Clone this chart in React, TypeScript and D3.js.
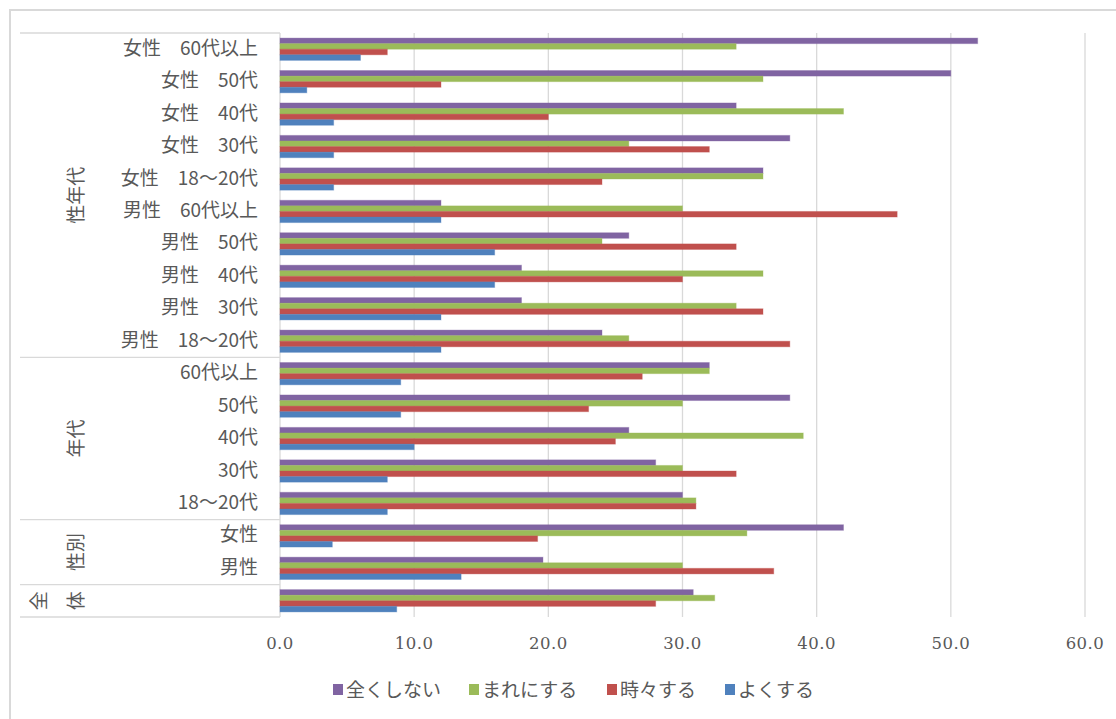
import React from "react";
import * as d3 from "d3";

const categories = [
  "女性　60代以上",
  "女性　50代",
  "女性　40代",
  "女性　30代",
  "女性　18～20代",
  "男性　60代以上",
  "男性　50代",
  "男性　40代",
  "男性　30代",
  "男性　18～20代",
  "60代以上",
  "50代",
  "40代",
  "30代",
  "18～20代",
  "女性",
  "男性",
  "",
];

const groups = [
  { label: "性年代", from: 0, to: 10 },
  { label: "年代", from: 10, to: 15 },
  { label: "性別", from: 15, to: 17 },
  { label: "全体", from: 17, to: 18 },
];

const seriesNames = ["全くしない", "まれにする", "時々する", "よくする"];
const seriesColors = ["#8064A2", "#9BBB59", "#C0504D", "#4F81BD"];

const zenkuShinai = [52, 50, 34, 38, 36, 12, 26, 18, 18, 24, 32, 38, 26, 28, 30, 42, 19.6, 30.8];
const mareniSuru = [34, 36, 42, 26, 36, 30, 24, 36, 34, 26, 32, 30, 39, 30, 31, 34.8, 30, 32.4];
const tokidokiSuru = [8, 12, 20, 32, 24, 46, 34, 30, 36, 38, 27, 23, 25, 34, 31, 19.2, 36.8, 28];
const yokuSuru = [6, 2, 4, 4, 4, 12, 16, 16, 12, 12, 9, 9, 10, 8, 8, 3.9, 13.5, 8.7];

const seriesValues = [zenkuShinai, mareniSuru, tokidokiSuru, yokuSuru];

const xTicks = [0, 10, 20, 30, 40, 50, 60];

export default function App() {
  const W = 1116;
  const H = 719;
  const plotLeft = 280;
  const plotRight = 1085;
  const plotTop = 33;
  const plotBottom = 617;
  const tableLeft = 20;
  const textColor = "#595959";
  const gridColor = "#d9d9d9";
  const jp = "'Noto Sans CJK JP', 'Noto Sans', sans-serif";
  const fs = 19;

  const x = d3.scaleLinear().domain([0, 60]).range([plotLeft, plotRight]);
  const idx = categories.map((_, i) => String(i));
  const y = d3
    .scaleBand<string>()
    .domain(idx)
    .range([plotTop, plotBottom])
    .paddingInner(0.3125)
    .paddingOuter(0.15625);
  const ys = d3
    .scaleBand<string>()
    .domain(seriesNames)
    .range([0, y.bandwidth()]);
  const step = y.step();

  const sepYs = [0, 10, 15, 17, 18].map((k) => plotTop + k * step);

  const legendItems = [
    { x: 333, name: seriesNames[0], color: seriesColors[0] },
    { x: 469, name: seriesNames[1], color: seriesColors[1] },
    { x: 607, name: seriesNames[2], color: seriesColors[2] },
    { x: 725, name: seriesNames[3], color: seriesColors[3] },
  ];

  return (
    <svg
      width={W}
      height={H}
      style={{ position: "absolute", left: 0, top: 0, background: "#fff" }}
    >
      <rect x={0} y={0} width={W} height={H} fill="#fff" />
      {/* outer chart border */}
      <rect x={10} y={10} width={W + 10} height={H + 10} fill="none" stroke={gridColor} strokeWidth={2} />

      {/* gridlines */}
      {xTicks
        .filter((t) => t > 0)
        .map((t) => (
          <line key={"g" + t} x1={x(t)} x2={x(t)} y1={plotTop} y2={plotBottom} stroke={gridColor} strokeWidth={1.3} />
        ))}

      {/* category table lines */}
      {sepYs.map((sy, i) => (
        <line key={"s" + i} x1={tableLeft} x2={plotLeft} y1={sy} y2={sy} stroke={gridColor} strokeWidth={1.3} />
      ))}
      <line x1={plotLeft} x2={plotLeft} y1={plotTop} y2={plotBottom} stroke={gridColor} strokeWidth={1.3} />

      {/* bars */}
      {seriesValues.map((vals, si) =>
        vals.map((v, ci) => (
          <rect
            key={`b${si}-${ci}`}
            x={x(0)}
            y={(y(String(ci)) as number) + (ys(seriesNames[si]) as number)}
            width={x(v) - x(0)}
            height={ys.bandwidth()}
            fill={seriesColors[si]}
            stroke={seriesColors[si]}
            strokeOpacity={0.35}
            strokeWidth={1}
          />
        ))
      )}

      {/* category labels */}
      {categories.map((c, i) => (
        <text
          key={"c" + i}
          x={258}
          y={(y(String(i)) as number) + y.bandwidth() / 2 - 3}
          textAnchor="end"
          dominantBaseline="central"
          fontFamily={jp}
          fontSize={fs}
          fill={textColor}
          style={{ whiteSpace: "pre" }}
        >
          {c}
        </text>
      ))}

      {/* group labels */}
      {groups.map((g, gi) => {
        const cy = plotTop + ((g.from + g.to) / 2) * step;
        if (g.label === "全体") {
          const chars = g.label.split("");
          return chars.map((ch, k) => (
            <text
              key={"gl" + gi + k}
              transform={`translate(${k === 0 ? 37 : 74},${cy}) rotate(-90)`}
              textAnchor="middle"
              dominantBaseline="central"
              fontFamily={jp}
              fontSize={fs}
              fill={textColor}
            >
              {ch}
            </text>
          ));
        }
        return (
          <text
            key={"gl" + gi}
            transform={`translate(74,${cy}) rotate(-90)`}
            textAnchor="middle"
            dominantBaseline="central"
            fontFamily={jp}
            fontSize={fs}
            fill={textColor}
          >
            {g.label}
          </text>
        );
      })}

      {/* x tick labels */}
      {xTicks.map((t) => (
        <text
          key={"t" + t}
          x={x(t)}
          y={643}
          textAnchor="middle"
          dominantBaseline="central"
          fontFamily="'DejaVu Serif', serif"
          fontSize={16.5}
          fill={textColor}
          letterSpacing={0.5}
        >
          {d3.format(".1f")(t)}
        </text>
      ))}

      {/* legend */}
      {legendItems.map((it) => (
        <g key={"l" + it.name}>
          <rect x={it.x} y={684} width={10} height={11} fill={it.color} />
          <text
            x={it.x + 13}
            y={688}
            dominantBaseline="central"
            fontFamily={jp}
            fontSize={fs}
            fill={textColor}
          >
            {it.name}
          </text>
        </g>
      ))}
    </svg>
  );
}
